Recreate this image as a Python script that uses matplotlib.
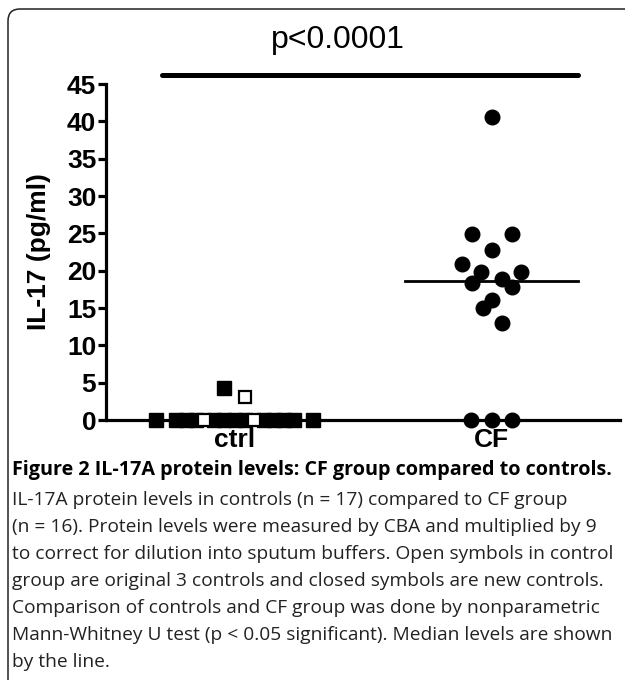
import matplotlib
matplotlib.use("Agg")
import matplotlib.pyplot as plt
from matplotlib.patches import FancyBboxPatch
from matplotlib.transforms import IdentityTransform
import numpy as np

# ---- data ----
categories = ["ctrl", "CF"]
ctrl_closed_values = [0, 0, 0, 0, 0, 0, 0, 0, 0, 0, 0, 0, 0, 4.3]
ctrl_closed_offsets = [-0.304, -0.226, -0.187, -0.148, -0.078, -0.039, 0.0, 0.039,
                       0.113, 0.152, 0.191, 0.230, 0.307, -0.039]
ctrl_open_values = [0, 0, 3.1]
ctrl_open_offsets = [-0.117, 0.074, 0.039]
cf_values = [40.6, 24.9, 24.9, 22.8, 20.9, 19.8, 19.8, 18.9, 18.3, 17.8, 16.1, 15.0, 13.0, 0, 0, 0]
cf_offsets = [0.0, -0.074, 0.078, 0.0, -0.113, -0.039, 0.113, 0.039, -0.074, 0.078,
              0.0, -0.035, 0.039, -0.078, 0.0, 0.078]
medians = [0.0, float(np.median(cf_values))]
y_ticks = [0, 5, 10, 15, 20, 25, 30, 35, 40, 45]
p_text = "p<0.0001"
ylabel = "IL-17 (pg/ml)"
caption_title = "Figure 2 IL-17A protein levels: CF group compared to controls."
caption_lines = [
    "IL-17A protein levels in controls (n = 17) compared to CF group",
    "(n = 16). Protein levels were measured by CBA and multiplied by 9",
    "to correct for dilution into sputum buffers. Open symbols in control",
    "group are original 3 controls and closed symbols are new controls.",
    "Comparison of controls and CF group was done by nonparametric",
    "Mann-Whitney U test (p < 0.05 significant). Median levels are shown",
    "by the line.",
]

W, H = 625, 680
fig = plt.figure(figsize=(W / 100, H / 100), dpi=100)
fig.patch.set_facecolor("white")

# frame (rounded top-left corner)
frame = FancyBboxPatch((8, -40), 700, 671 + 40, boxstyle="round,pad=0,rounding_size=12",
                       transform=IdentityTransform(), fill=False, edgecolor="#222222",
                       linewidth=1.1)
fig.patches.append(frame)

ax_left, ax_right = 106 / W, 620 / W
ax_top_px, ax_bot_px = 84, 420
ax = fig.add_axes([ax_left, 1 - ax_bot_px / H, ax_right - ax_left, (ax_bot_px - ax_top_px) / H])
ax.set_xlim(0.5, 2.5)
ax.set_ylim(0, 45)

lw_axis = 2.3
for s in ["top", "right"]:
    ax.spines[s].set_visible(False)
for s in ["left", "bottom"]:
    ax.spines[s].set_linewidth(lw_axis)
    ax.spines[s].set_color("black")

ax.set_yticks(y_ticks)
ax.set_yticklabels([str(t) for t in y_ticks])
ax.set_xticks([1, 2])
ax.set_xticklabels(categories)
ax.tick_params(axis="y", direction="out", length=6, width=lw_axis, pad=1)
ax.tick_params(axis="x", direction="out", length=5, width=lw_axis, pad=0.5)
for lab in ax.get_yticklabels() + ax.get_xticklabels():
    lab.set_fontfamily("Liberation Sans")
    lab.set_fontweight("bold")
    lab.set_fontsize(19)

ax.set_ylabel(ylabel, fontfamily="Liberation Sans", fontweight="bold", fontsize=19)
ax.yaxis.set_label_coords(-(106 - 51) / (620 - 106), 0.5)

# points
ax.plot(1 + np.array(ctrl_closed_offsets), ctrl_closed_values, linestyle="none",
        marker="s", markersize=9.5, color="black", clip_on=False, zorder=5)
ax.plot(1 + np.array(ctrl_open_offsets), ctrl_open_values, linestyle="none",
        marker="s", markersize=9, markerfacecolor="white", markeredgecolor="black",
        markeredgewidth=1.6, clip_on=False, zorder=6)
ax.plot(2 + np.array(cf_offsets), cf_values, linestyle="none",
        marker="o", markersize=10.5, color="black", clip_on=False, zorder=5)

# median lines
half = 0.337
for i, m in enumerate(medians):
    ax.plot([i + 1 - half, i + 1 + half], [m, m], color="black", linewidth=2.0,
            zorder=4, clip_on=False)

# significance bar
ax.plot([0.718, 2.337], [46.2, 46.2], color="black", linewidth=3.6,
        solid_capstyle="round", clip_on=False)
fig.text(338 / W, 1 - 40 / H, p_text, ha="center", va="center",
         fontfamily="Liberation Sans", fontsize=23)

# caption
fig.text(12 / W, 1 - 470 / H, caption_title, ha="left", va="center",
         fontfamily="Open Sans", fontweight="bold", fontsize=14.2)
for i, line in enumerate(caption_lines):
    fig.text(12 / W, 1 - (500 + 27 * i) / H, line, ha="left", va="center",
             fontfamily="Open Sans", fontsize=13.8, color="#222222")

fig.savefig("out.png", dpi=100)
